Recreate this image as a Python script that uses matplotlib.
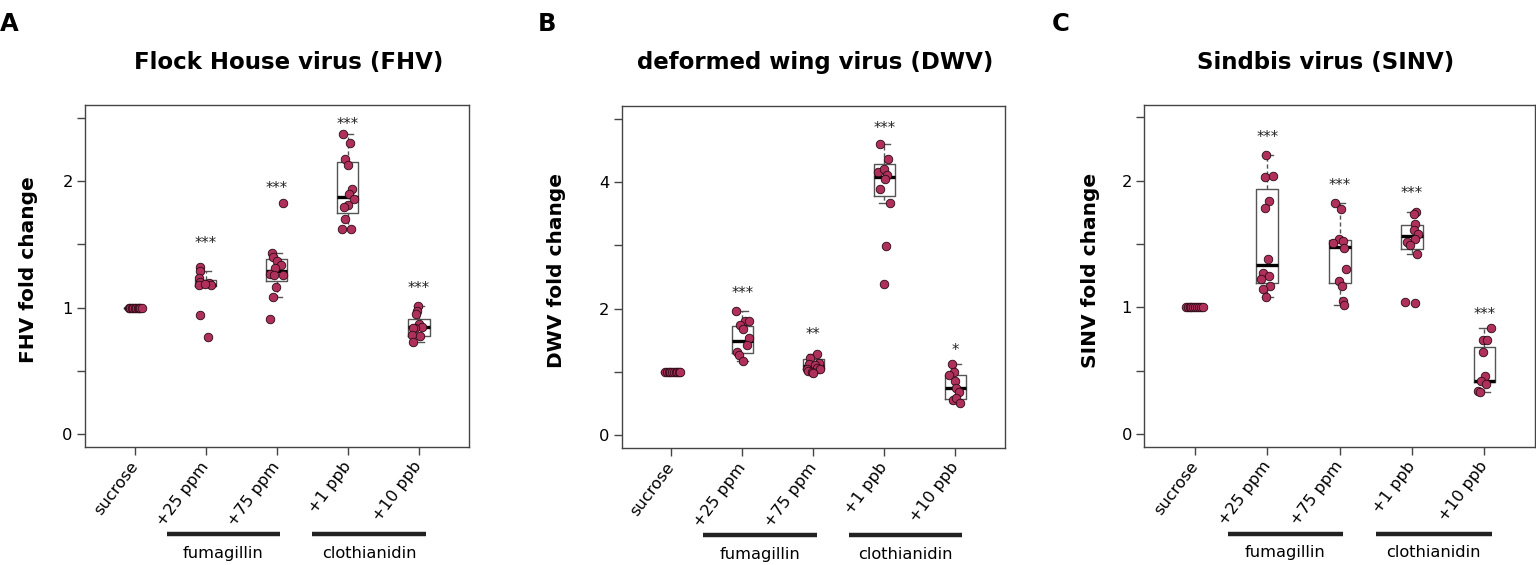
import matplotlib
matplotlib.use('Agg')
import matplotlib.pyplot as plt
import numpy as np

# treatment groups (x axis)
groups = ['sucrose', '+25 ppm', '+75 ppm', '+1 ppb', '+10 ppb']

# FHV fold change, one list per group, plus horizontal jitter
fhv_vals = [
    [1.0, 1.0, 1.0, 1.0, 1.0, 1.0, 1.0, 1.0, 1.0, 1.0],
    [1.32, 1.291, 1.234, 1.2, 1.181, 1.194, 1.181, 1.19, 0.945, 0.769],
    [1.83, 1.43, 1.399, 1.365, 1.339, 1.312, 1.265, 1.26, 1.26, 1.16, 1.084, 0.913],
    [2.37, 2.297, 2.171, 2.129, 1.934, 1.898, 1.856, 1.814, 1.793, 1.701, 1.619, 1.622],
    [1.016, 0.976, 0.95, 0.874, 0.845, 0.843, 0.837, 0.787, 0.774, 0.727],
]
fhv_dx = [
    [-0.08, -0.06, -0.04, -0.02, 0.0, 0.02, 0.04, 0.06, 0.08, 0.1],
    [-0.075, -0.084, -0.094, -0.084, -0.094, 0.047, 0.08, -0.01, -0.075, 0.028],
    [0.084, -0.07, -0.051, 0.009, 0.056, -0.028, -0.098, -0.037, 0.084, -0.014, -0.047, -0.089],
    [-0.075, 0.033, -0.047, 0.009, 0.065, 0.014, 0.089, 0.0, -0.061, -0.033, -0.08, 0.051],
    [-0.009, -0.028, -0.037, -0.005, 0.047, -0.051, -0.084, -0.094, 0.009, -0.089],
]
# box stats: whisker low, q1, median, q3, whisker high
fhv_box = [(1.0, 1.0, 1.0, 1.0, 1.0), (1.17, 1.168, 1.18, 1.22, 1.291),
           (1.084, 1.207, 1.286, 1.383, 1.43), (1.619, 1.745, 1.877, 2.147, 2.37),
           (0.727, 0.78, 0.845, 0.911, 1.016)]
fhv_stars = ['', '***', '***', '***', '***']
fhv_star_y = [0, 1.54, 1.97, 2.48, 1.18]

dwv_vals = [
    [1.0, 1.0, 1.0, 1.0, 1.0, 1.0, 1.0, 1.0, 1.0, 1.0],
    [1.968, 1.81, 1.81, 1.741, 1.673, 1.531, 1.425, 1.319, 1.266, 1.171],
    [1.277, 1.214, 1.146, 1.125, 1.11, 1.07, 1.04, 1.04, 1.02, 1.0, 0.987],
    [4.607, 4.369, 4.153, 4.211, 4.116, 4.047, 3.889, 3.668, 2.997, 2.385],
    [1.119, 0.997, 0.96, 0.86, 0.755, 0.681, 0.565, 0.591, 0.512],
]
dwv_dx = [
    [-0.09, -0.065, -0.04, -0.015, 0.01, 0.035, 0.06, 0.085, 0.1, 0.12],
    [-0.089, 0.038, 0.099, -0.033, 0.014, 0.099, 0.061, -0.08, -0.042, 0.005],
    [0.056, -0.047, 0.085, -0.056, 0.024, 0.047, -0.085, 0.094, -0.07, -0.024, 0.0],
    [-0.066, 0.052, -0.094, 0.0, 0.038, 0.014, -0.056, 0.08, 0.028, -0.009],
    [-0.047, -0.024, -0.094, -0.009, 0.009, 0.056, -0.033, 0.009, 0.071],
]
dwv_box = [(1.0, 1.0, 1.0, 1.0, 1.0), (1.171, 1.293, 1.493, 1.726, 1.968),
           (0.987, 1.04, 1.098, 1.198, 1.277), (3.668, 3.773, 4.084, 4.285, 4.607),
           (0.512, 0.58, 0.755, 0.96, 1.119)]
dwv_stars = ['', '***', '**', '***', '*']
dwv_star_y = [0, 2.295, 1.646, 4.9, 1.398]

sinv_vals = [
    [1.0, 1.0, 1.0, 1.0, 1.0, 1.0, 1.0, 1.0, 1.0, 1.0],
    [2.2, 2.03, 2.04, 1.836, 1.786, 1.383, 1.273, 1.251, 1.22, 1.172, 1.146, 1.083],
    [1.826, 1.779, 1.541, 1.51, 1.523, 1.467, 1.299, 1.206, 1.167, 1.048, 1.017],
    [1.755, 1.738, 1.655, 1.61, 1.576, 1.541, 1.515, 1.489, 1.425, 1.043, 1.036],
    [0.838, 0.746, 0.746, 0.646, 0.456, 0.422, 0.398, 0.337, 0.335],
]
sinv_dx = [
    [-0.13, -0.1, -0.075, -0.05, -0.025, 0.0, 0.03, 0.06, 0.085, 0.11],
    [-0.018, -0.028, 0.074, 0.023, -0.037, 0.009, -0.055, 0.023, -0.092, 0.032, -0.055, -0.023],
    [-0.065, 0.023, -0.005, -0.092, 0.042, 0.065, 0.083, -0.005, 0.032, 0.051, 0.065],
    [0.06, 0.023, 0.046, 0.028, 0.088, 0.037, -0.069, -0.032, 0.069, -0.092, 0.037],
    [0.088, -0.018, 0.037, -0.018, 0.014, -0.041, 0.028, -0.088, -0.065],
]
sinv_box = [(1.0, 1.0, 1.0, 1.0, 1.0), (1.083, 1.196, 1.331, 1.937, 2.2),
            (1.017, 1.191, 1.478, 1.534, 1.826), (1.425, 1.457, 1.563, 1.65, 1.755),
            (0.335, 0.411, 0.416, 0.69, 0.838)]
sinv_stars = ['', '***', '***', '***', '***']
sinv_star_y = [0, 2.372, 1.995, 1.929, 0.972]

titles = ['Flock House virus (FHV)', 'deformed wing virus (DWV)', 'Sindbis virus (SINV)']
ylabels = ['FHV fold change', 'DWV fold change', 'SINV fold change']
letters = ['A', 'B', 'C']

dot_color = '#B0305C'
frame_color = '#444444'

panels = [
    (fhv_vals, fhv_dx, fhv_box, fhv_stars, fhv_star_y, (-0.1, 2.6), np.arange(0, 2.51, 0.5), [0, 1, 2]),
    (dwv_vals, dwv_dx, dwv_box, dwv_stars, dwv_star_y, (-0.2, 5.2), np.arange(0, 5.1, 1), [0, 2, 4]),
    (sinv_vals, sinv_dx, sinv_box, sinv_stars, sinv_star_y, (-0.1, 2.6), np.arange(0, 2.51, 0.5), [0, 1, 2]),
]

fig = plt.figure(figsize=(15.36, 5.65), dpi=100)

# axes rectangles in figure fractions
rects = [[0.0553, 0.2088, 0.2498, 0.6053],
         [0.4048, 0.2071, 0.2495, 0.6053],
         [0.745, 0.2094, 0.2544, 0.6053]]
title_x = [288.5 / 1536, 815 / 1536, 1326 / 1536]
ylabel_x = [29 / 1536, 557 / 1536, 1090 / 1536]
letter_x = [0.0, 538 / 1536, 1052 / 1536]

for i, (vals, dx, box, stars, star_y, ylim, yt, ylab) in enumerate(panels):
    ax = fig.add_axes(rects[i])
    pos = np.arange(1, len(groups) + 1)

    stats = []
    for lo, q1, med, q3, hi in box:
        stats.append(dict(whislo=lo, q1=q1, med=med, q3=q3, whishi=hi, fliers=[]))
    ax.bxp(stats, positions=pos, widths=0.3, showfliers=False, capwidths=0.15,
           boxprops=dict(color='#555555', lw=1.0),
           medianprops=dict(color='black', lw=2.4, solid_capstyle='butt'),
           whiskerprops=dict(color='#555555', lw=1.0, linestyle=(0, (3, 2))),
           capprops=dict(color='#555555', lw=1.0))

    for p, v, d in zip(pos, vals, dx):
        ax.scatter(p + np.array(d), v, s=38, color=dot_color, edgecolor='#2a0a15',
                   linewidth=0.6, zorder=5)

    for p, s, y in zip(pos, stars, star_y):
        if s:
            ax.annotate(s, (p, y), xytext=(0, -6), textcoords='offset points',
                        ha='center', va='baseline', fontsize=10.5, color='#222222')

    ax.set_xlim(0.3, 5.7)
    ax.set_ylim(*ylim)
    ax.set_yticks(yt)
    ax.set_yticklabels([f'{t:g}' if t in ylab else '' for t in yt], fontsize=11.7)
    ax.set_xticks(pos)
    ax.set_xticklabels(groups, fontsize=11.7)
    plt.setp(ax.get_xticklabels(), rotation=53, ha='right', va='center', rotation_mode='anchor')
    ax.tick_params(axis='both', direction='out', length=5.8, width=1.0, color=frame_color, pad=3)
    ax.tick_params(axis='x', pad=6)
    for sp in ax.spines.values():
        sp.set_color(frame_color)
        sp.set_linewidth(1.0)

    # treatment group bars under the tick labels
    trans = ax.get_xaxis_transform()
    for (a, b), name in zip([(1.45, 3.05), (3.5, 5.1)], ['fumagillin', 'clothianidin']):
        ax.plot([a, b], [-0.254, -0.254], color='#222222', lw=3.2, transform=trans,
                clip_on=False, solid_capstyle='butt')
        ax.text((a + b) / 2, -0.31, name, transform=trans, ha='center', va='center',
                fontsize=11.7)

    fig.text(title_x[i], 1 - 62 / 565, titles[i], ha='center', va='center',
             fontsize=16.5, fontweight='bold')
    fig.text(ylabel_x[i], 1 - 270 / 565, ylabels[i], ha='center', va='center',
             rotation=90, fontsize=14.5, fontweight='bold')
    fig.text(letter_x[i], 1 - 12 / 565, letters[i], ha='left', va='top',
             fontsize=17.5, fontweight='bold')

fig.savefig('out.png', dpi=100)
